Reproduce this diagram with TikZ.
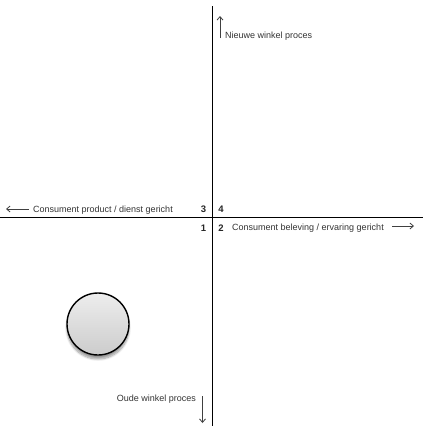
\documentclass[tikz,border=0pt]{standalone}
\usepackage{fontspec}
\setmainfont{Liberation Sans}
\usetikzlibrary{arrows.meta,shadows.blur}
\begin{document}
\begin{tikzpicture}[x=1pt,y=-1pt,
  axis/.style={line width=1.8pt,black},
  dirarrow/.style={draw=black!75,line width=0.8pt,-{Straight Barb[length=3.5pt,width=6pt]}},
  lbl/.style={font=\fontsize{9}{10}\selectfont,text=black!80,inner sep=0pt},
  num/.style={font=\fontsize{9.5}{10}\selectfont\bfseries,text=black!85,inner sep=0pt}]
\useasboundingbox (0,0) rectangle (423,426);
\coordinate (vt) at (212.5,6);
\coordinate (vb) at (212.5,426);
\coordinate (hl) at (0,217.5);
\coordinate (hr) at (423,217.5);
\draw[axis] (vt) -- (vb);
\draw[axis] (hl) -- (hr);
% up arrow
\coordinate (ua) at (220,38);
\coordinate (ub) at (220,16);
\draw[dirarrow] (ua) -- (ub);
\node[lbl,anchor=base west] (nw) at (225,38) {Nieuwe winkel proces};
% left
\coordinate (la) at (29,209);
\coordinate (lb) at (6,209);
\draw[dirarrow] (la) -- (lb);
\node[lbl,anchor=base west] (cp) at (33,212) {Consument product / dienst gericht};
% right
\node[lbl,anchor=base west] (cb) at (232,230) {Consument beleving / ervaring gericht};
\coordinate (ra) at (392,226);
\coordinate (rb) at (414,226);
\draw[dirarrow] (ra) -- (rb);
% numbers
\node[num,anchor=base] (n3) at (203.5,212) {3};
\node[num,anchor=base] (n4) at (221,212) {4};
\node[num,anchor=base] (n1) at (203.5,231) {1};
\node[num,anchor=base] (n2) at (221,231) {2};
% down
\node[lbl,anchor=base east] (ow) at (196,401) {Oude winkel proces};
\coordinate (da) at (202.5,396);
\coordinate (db) at (202.5,423);
\draw[dirarrow] (da) -- (db);
% circle
\node[circle,minimum size=62pt,draw=black,line width=1.4pt,
  top color=black!7,bottom color=black!20,
  blur shadow={shadow xshift=0pt,shadow yshift=-4pt,shadow blur steps=8,shadow opacity=40}] (c) at (98,324) {};
\end{tikzpicture}
\end{document}
